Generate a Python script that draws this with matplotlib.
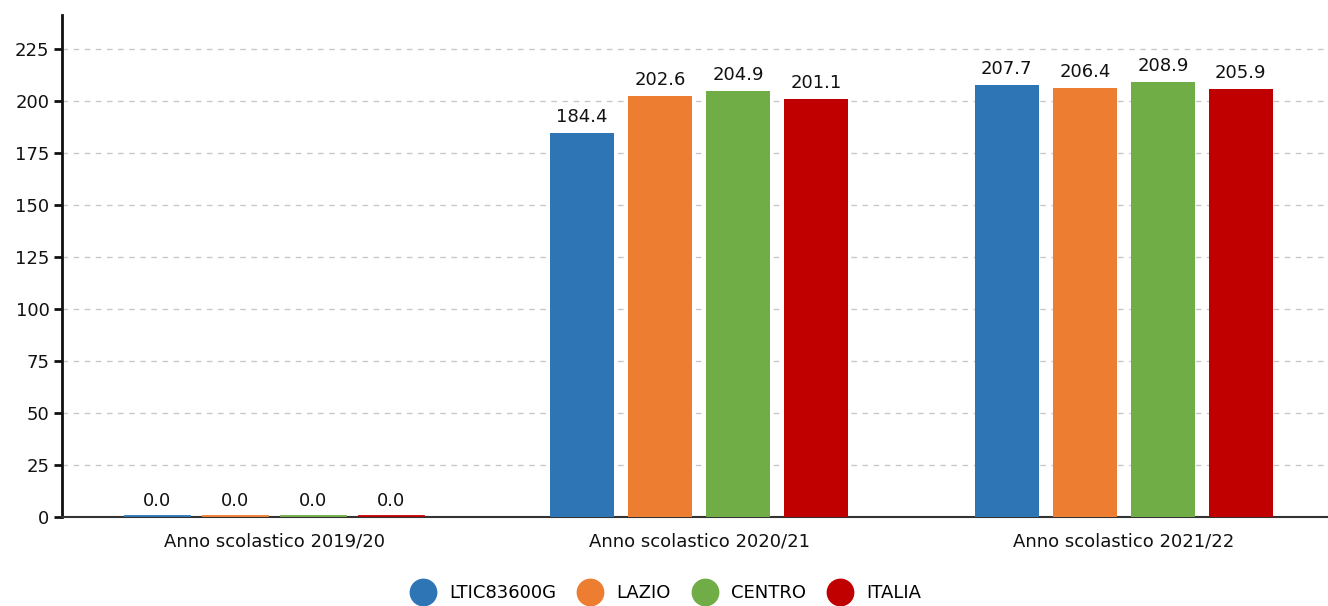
import matplotlib
matplotlib.use("Agg")
import matplotlib.pyplot as plt
from matplotlib.lines import Line2D
import numpy as np

categories = ["Anno scolastico 2019/20", "Anno scolastico 2020/21", "Anno scolastico 2021/22"]
series_names = ["LTIC83600G", "LAZIO", "CENTRO", "ITALIA"]
ltic = [0.0, 184.4, 207.7]
lazio = [0.0, 202.6, 206.4]
centro = [0.0, 204.9, 208.9]
italia = [0.0, 201.1, 205.9]
colors = ["#2E75B6", "#ED7D31", "#70AD47", "#C00000"]
yticks = [0, 25, 50, 75, 100, 125, 150, 175, 200, 225]

plt.rcParams['font.family'] = ['DejaVu Sans']
fig = plt.figure(figsize=(13.28, 6.06), dpi=100)
catw = 424.75
ax = fig.add_axes([62/1328, 1-517/606, 3*catw/1328, (517-15)/606])

x = np.arange(len(categories))
width = 64/catw
step = 78/catw
data = [ltic, lazio, centro, italia]
fs = 13
for i, (vals, col) in enumerate(zip(data, colors)):
    pos = x + (i - 1.5) * step
    ax.bar(pos, vals, width=width, color=col, zorder=3)
    for xp, v in zip(pos, vals):
        if v == 0:
            ax.plot([xp - width/2, xp + width/2], [0.3, 0.3], color=col, lw=2, zorder=4)
        ax.annotate(f"{v:.1f}", (xp, v), xytext=(0, 5), textcoords="offset points",
                    ha="center", va="bottom", fontsize=fs, color="#111111", zorder=5)

ax.set_xlim(-0.5, 2.5)
ax.set_ylim(0, 241.3)
ax.set_yticks(yticks)
ax.set_xticks(x)
ax.set_xticklabels(categories)
ax.tick_params(axis='y', length=6, width=2, labelsize=fs, pad=3, colors="#111111")
ax.tick_params(axis='x', length=0, labelsize=fs, pad=11, colors="#111111")
ax.yaxis.grid(True, linestyle=(0, (4, 4)), color="#c8c8c8", lw=1, zorder=0)
for s in ["top", "right"]:
    ax.spines[s].set_visible(False)
ax.spines["left"].set_linewidth(2)
ax.spines["left"].set_color("#111111")
ax.spines["bottom"].set_linewidth(1.5)
ax.spines["bottom"].set_color("#333333")

handles = [Line2D([], [], marker='o', linestyle='None', markersize=19, markerfacecolor=c,
                  markeredgecolor=c, label=n) for n, c in zip(series_names, colors)]
fig.legend(handles=handles, loc="center", bbox_to_anchor=(0.502, 1 - 593/606), ncol=4,
           frameon=False, fontsize=fs, handletextpad=0.84, columnspacing=1.3, handlelength=1.2)

fig.savefig("out.png", dpi=100)
